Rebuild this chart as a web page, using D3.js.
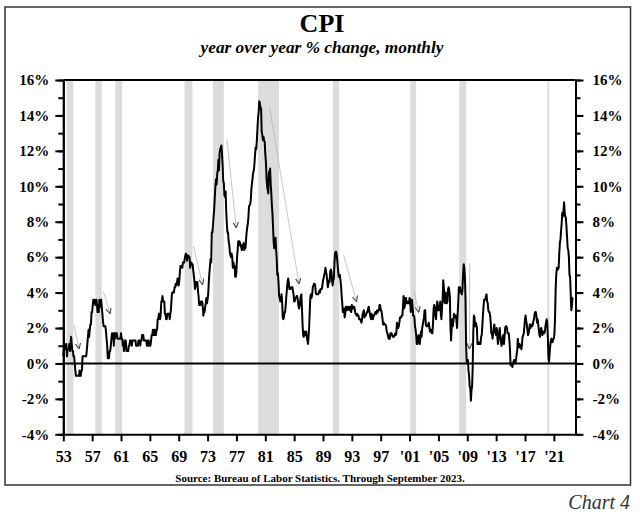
<!DOCTYPE html>
<html>
<head>
<meta charset="utf-8">
<script src="https://cdn.jsdelivr.net/npm/d3@7"></script>
<style>
  body { margin: 0; background: white; }
  text { font-family: "Liberation Serif", "Times New Roman", serif; }
</style>
</head>
<body>
<div id="chart"></div>
<script>
// monthly CPI, year over year % change, starting Jan 1953
const cpi1950s = [
  0.4, 0.8, 1.1, 0.8, 0.8, 1.1, 0.4, 0.8, 0.8, 0.8, 1.1, 0.7,
  1.1, 1.5, 1.1, 0.7, 0.7, 0.4, 0.4, 0.0, -0.4, -0.7, -0.7, -0.7,
  -0.7, -0.7, -0.7, -0.4, -0.7, -0.7, -0.4, -0.4, 0.4, 0.4, 0.4, 0.4,
  0.4, 0.4, 0.4, 0.7, 1.1, 1.5, 1.9, 1.5, 1.9, 2.2, 2.2, 2.9,
  2.9, 3.3, 3.6, 3.6, 3.6, 3.3, 3.3, 3.6, 3.3, 2.9, 3.3, 2.9,
  3.6, 3.2, 3.6, 3.6, 3.2, 2.8, 2.4, 2.1, 2.1, 2.1, 2.1, 1.8,
  1.4, 1.0, 0.3, 0.3, 0.3, 0.7, 0.7, 1.0, 1.4, 1.7, 1.4, 1.7
];
const cpi1960s = [
  1.0, 1.7, 1.4, 1.7, 1.7, 1.7, 1.4, 1.4, 1.4, 1.4, 1.4, 1.4,
  1.7, 1.4, 1.4, 1.0, 1.0, 0.7, 1.3, 1.3, 1.3, 0.7, 0.7, 0.7,
  0.7, 1.0, 1.0, 1.3, 1.3, 1.3, 1.0, 1.3, 1.3, 1.3, 1.3, 1.3,
  1.3, 1.0, 1.0, 1.0, 1.0, 1.3, 1.3, 1.3, 1.0, 1.3, 1.3, 1.6,
  1.6, 1.6, 1.3, 1.3, 1.3, 1.3, 1.3, 1.0, 1.3, 1.0, 1.3, 1.0,
  1.0, 1.0, 1.3, 1.6, 1.6, 1.9, 1.6, 1.9, 1.6, 1.9, 1.6, 1.9,
  1.9, 2.5, 2.5, 2.8, 2.8, 2.5, 2.8, 3.5, 3.5, 3.8, 3.5, 3.5,
  3.5, 2.8, 2.8, 2.5, 2.5, 2.8, 2.8, 2.8, 2.8, 2.5, 2.8, 3.0,
  3.6, 4.0, 4.0, 4.0, 4.0, 4.3, 4.3, 4.5, 4.4, 4.5, 4.8, 4.7,
  4.4, 4.7, 5.2, 5.5, 5.5, 5.5, 5.4, 5.7, 5.7, 5.7, 5.9, 6.1
];
const cpi1970s = [
  6.2, 6.1, 5.8, 6.1, 6.1, 6.0, 6.0, 5.4, 5.7, 5.7, 5.6, 5.6,
  5.3, 5.0, 4.7, 4.2, 4.4, 4.6, 4.4, 4.6, 4.1, 3.8, 3.3, 3.3,
  3.3, 3.5, 3.5, 3.5, 3.2, 2.7, 2.9, 2.9, 3.2, 3.4, 3.7, 3.4,
  3.6, 3.9, 4.6, 5.1, 5.5, 5.9, 5.7, 7.4, 7.4, 7.8, 8.3, 8.7,
  9.4, 10.0, 10.4, 10.1, 10.7, 10.9, 11.5, 10.9, 11.9, 12.1, 12.2, 12.3,
  11.8, 11.2, 10.3, 10.2, 9.5, 9.4, 9.7, 8.6, 7.9, 7.4, 7.4, 6.9,
  6.7, 6.3, 6.1, 6.0, 6.2, 6.0, 5.4, 5.7, 5.5, 5.5, 4.9, 4.9,
  5.2, 6.0, 6.4, 6.9, 6.7, 6.9, 6.8, 6.6, 6.6, 6.4, 6.7, 6.7,
  6.8, 6.4, 6.6, 6.5, 7.0, 7.4, 7.7, 7.9, 8.3, 8.9, 8.9, 9.0,
  9.3, 9.9, 10.2, 10.5, 10.8, 10.9, 11.3, 11.8, 12.2, 12.1, 12.6, 13.3
];
const cpi1980s = [
  13.9, 14.2, 14.8, 14.7, 14.4, 14.4, 13.1, 12.9, 12.6, 12.8, 12.6, 12.5,
  11.8, 11.4, 10.5, 10.0, 9.8, 9.6, 10.8, 10.8, 11.0, 10.1, 9.6, 8.9,
  8.4, 7.6, 6.8, 6.5, 6.7, 7.1, 6.4, 5.9, 5.0, 5.1, 4.6, 3.8,
  3.7, 3.5, 3.6, 3.9, 3.5, 2.6, 2.5, 2.6, 2.9, 2.9, 3.3, 3.8,
  4.2, 4.6, 4.8, 4.6, 4.2, 4.2, 4.2, 4.3, 4.3, 4.3, 4.1, 3.9,
  3.5, 3.5, 3.7, 3.7, 3.8, 3.8, 3.6, 3.3, 3.1, 3.2, 3.5, 3.8,
  3.9, 3.1, 2.2, 1.6, 1.5, 1.8, 1.6, 1.6, 1.8, 1.5, 1.3, 1.1,
  1.5, 2.1, 3.0, 3.8, 3.9, 3.7, 3.9, 4.3, 4.4, 4.5, 4.5, 4.4,
  4.0, 3.9, 3.9, 3.9, 3.9, 4.0, 4.1, 4.0, 4.2, 4.2, 4.2, 4.4,
  4.7, 4.8, 5.0, 5.1, 5.4, 5.2, 5.0, 4.7, 4.3, 4.5, 4.7, 4.6
];
const cpi1990s = [
  5.2, 5.3, 5.2, 4.7, 4.4, 4.7, 4.8, 5.6, 6.2, 6.3, 6.3, 6.1,
  5.7, 5.3, 4.9, 4.9, 5.0, 4.7, 4.4, 3.8, 3.4, 2.9, 3.0, 3.1,
  2.6, 2.8, 3.2, 3.2, 3.0, 3.1, 3.2, 3.1, 3.0, 3.2, 3.0, 2.9,
  3.3, 3.2, 3.1, 3.2, 3.2, 3.0, 2.8, 2.8, 2.7, 2.8, 2.7, 2.7,
  2.5, 2.5, 2.5, 2.4, 2.3, 2.5, 2.8, 2.9, 3.0, 2.6, 2.7, 2.7,
  2.8, 2.9, 2.9, 3.1, 3.2, 3.0, 2.8, 2.6, 2.5, 2.8, 2.6, 2.5,
  2.7, 2.7, 2.8, 2.9, 2.9, 2.8, 3.0, 2.9, 3.0, 3.0, 3.3, 3.3,
  3.0, 3.0, 2.8, 2.5, 2.2, 2.3, 2.2, 2.2, 2.2, 2.1, 1.8, 1.7,
  1.6, 1.4, 1.4, 1.4, 1.7, 1.7, 1.7, 1.6, 1.5, 1.5, 1.5, 1.6,
  1.7, 1.6, 1.7, 2.3, 2.1, 2.0, 2.1, 2.3, 2.6, 2.6, 2.6, 2.7
];
const cpi2000s = [
  2.7, 3.2, 3.8, 3.1, 3.2, 3.7, 3.7, 3.4, 3.5, 3.4, 3.4, 3.4,
  3.7, 3.5, 2.9, 3.3, 3.6, 3.2, 2.7, 2.7, 2.6, 2.1, 1.9, 1.6,
  1.1, 1.1, 1.5, 1.6, 1.2, 1.1, 1.5, 1.8, 1.5, 2.0, 2.2, 2.4,
  2.6, 3.0, 3.0, 2.2, 2.1, 2.1, 2.1, 2.2, 2.3, 2.0, 1.8, 1.9,
  1.9, 1.7, 1.7, 2.3, 3.1, 3.3, 3.0, 2.7, 2.5, 3.2, 3.5, 3.3,
  3.0, 3.0, 3.1, 3.5, 2.8, 2.5, 3.2, 3.6, 4.7, 4.3, 3.5, 3.4,
  4.0, 3.6, 3.4, 3.5, 4.2, 4.3, 4.1, 3.8, 2.1, 1.3, 2.0, 2.5,
  2.1, 2.4, 2.8, 2.6, 2.7, 2.7, 2.4, 2.0, 2.8, 3.5, 4.3, 4.1,
  4.3, 4.0, 4.0, 3.9, 4.2, 5.0, 5.6, 5.4, 4.9, 3.7, 1.1, 0.1,
  0.0, 0.2, -0.4, -0.7, -1.3, -1.4, -2.1, -1.5, -1.3, -0.2, 1.8, 2.7
];
const cpi2010s = [
  2.6, 2.1, 2.3, 2.2, 2.0, 1.1, 1.2, 1.1, 1.1, 1.2, 1.1, 1.5,
  1.6, 2.1, 2.7, 3.2, 3.6, 3.6, 3.6, 3.8, 3.9, 3.5, 3.4, 3.0,
  2.9, 2.9, 2.7, 2.3, 1.7, 1.7, 1.4, 1.7, 2.0, 2.2, 1.8, 1.7,
  1.6, 2.0, 1.5, 1.1, 1.4, 1.8, 2.0, 1.5, 1.2, 1.0, 1.2, 1.5,
  1.6, 1.1, 1.5, 2.0, 2.1, 2.1, 2.0, 1.7, 1.7, 1.7, 1.3, 0.8,
  -0.1, 0.0, -0.1, -0.2, 0.0, 0.1, 0.2, 0.2, 0.0, 0.2, 0.5, 0.7,
  1.4, 1.0, 0.9, 1.1, 1.0, 1.0, 0.8, 1.1, 1.5, 1.6, 1.7, 2.1,
  2.5, 2.7, 2.4, 2.2, 1.9, 1.6, 1.7, 1.9, 2.2, 2.0, 2.2, 2.1,
  2.1, 2.2, 2.4, 2.5, 2.8, 2.9, 2.9, 2.7, 2.3, 2.5, 2.2, 1.9,
  1.6, 1.5, 1.9, 2.0, 1.8, 1.6, 1.8, 1.7, 1.7, 1.8, 2.1, 2.3
];
const cpi2020s = [
  2.5, 2.3, 1.5, 0.3, 0.1, 0.6, 1.0, 1.3, 1.4, 1.2, 1.2, 1.4,
  1.4, 1.7, 2.6, 4.2, 5.0, 5.4, 5.4, 5.3, 5.4, 6.2, 6.8, 7.0,
  7.5, 7.9, 8.5, 8.3, 8.6, 9.1, 8.5, 8.3, 8.2, 7.7, 7.1, 6.5,
  6.4, 6.0, 5.0, 4.9, 4.0, 3.0, 3.2, 3.7, 3.7
];
const startYear = 1953;

// recessions (decimal years)
const recessionStart = [1953.45, 1957.45, 1960.2, 1969.8, 1973.75, 1980.0, 1990.35, 2001.1, 2007.88, 2020.1];
const recessionEnd   = [1954.4, 1958.35, 1961.15, 1970.9, 1975.25, 1982.9, 1991.25, 2001.9, 2008.85, 2020.35];

// grey arrows after recessions: [year, value] -> [year, value]
const arrowFrom = [[1954.48, 2.17], [1958.55, 4.05], [1971.04, 6.63], [1975.68, 12.65], [1981.59, 14.46], [1991.86, 6.12], [2001.57, 4.14], [2009.34, 5.65]];
const arrowTo   = [[1955.18, 0.85], [1959.48, 2.83], [1972.29, 4.48], [1976.97, 7.68], [1985.67, 4.52], [1993.62, 3.52], [2002.27, 2.92], [2009.3, 0.85]];

const xTickYears = d3.range(1953, 2022, 4);
const yMajorTicks = d3.range(-4, 17, 2);
const yMinorTicks = d3.range(-4, 17, 1);

const W = 640, H = 516;
const PLOT = { LEFT: 63.3, RIGHT: 575.5, TOP: 80, BOTTOM: 434.3 };
const SERIF = '"Liberation Serif", "Times New Roman", serif';

const series = [].concat(cpi1950s, cpi1960s, cpi1970s, cpi1980s, cpi1990s, cpi2000s, cpi2010s, cpi2020s)
  .map((v, i) => ({ date: startYear + i / 12, value: v }));

const svg = d3.select("#chart").append("svg")
  .attr("width", W)
  .attr("height", H)
  .style("background", "white");

// outer frame
svg.append("rect")
  .attr("x", 5).attr("y", 7)
  .attr("width", 625.5).attr("height", 478)
  .attr("fill", "none")
  .attr("stroke", "#333")
  .attr("stroke-width", 1.5);

const xScale = d3.scaleLinear().domain([1953, 2024]).range([PLOT.LEFT, PLOT.RIGHT]);
const yScale = d3.scaleLinear().domain([-4, 16]).range([PLOT.BOTTOM, PLOT.TOP]);

// recession shading
svg.append("g").selectAll("rect")
  .data(recessionStart.map((s, i) => [s, recessionEnd[i]]))
  .join("rect")
  .attr("x", (d) => xScale(d[0]))
  .attr("width", (d) => xScale(d[1]) - xScale(d[0]))
  .attr("y", yScale(16))
  .attr("height", yScale(-4) - yScale(16))
  .attr("fill", "#dcdcdc");

// arrows
svg.append("defs").append("marker")
  .attr("id", "arrowhead")
  .attr("viewBox", "0 0 8 8")
  .attr("refX", 7).attr("refY", 4)
  .attr("markerWidth", 6).attr("markerHeight", 6)
  .attr("markerUnits", "userSpaceOnUse")
  .attr("orient", "auto")
  .append("path")
  .attr("d", "M0,0.5 L8,4 L0,7.5")
  .attr("fill", "none")
  .attr("stroke", "#444")
  .attr("stroke-width", 1.4);

svg.append("g").selectAll("line")
  .data(arrowFrom.map((f, i) => [f, arrowTo[i]]))
  .join("line")
  .attr("x1", (d) => xScale(d[0][0]))
  .attr("y1", (d) => yScale(d[0][1]))
  .attr("x2", (d) => xScale(d[1][0]))
  .attr("y2", (d) => yScale(d[1][1]))
  .attr("stroke", "#b8b8b8")
  .attr("stroke-width", 0.8)
  .attr("marker-end", "url(#arrowhead)");

// zero line
svg.append("line")
  .attr("x1", PLOT.LEFT).attr("x2", PLOT.RIGHT)
  .attr("y1", yScale(0)).attr("y2", yScale(0))
  .attr("stroke", "black").attr("stroke-width", 2);

// top border of plot
svg.append("line")
  .attr("x1", PLOT.LEFT).attr("x2", PLOT.RIGHT)
  .attr("y1", yScale(16)).attr("y2", yScale(16))
  .attr("stroke", "black").attr("stroke-width", 2);

// cpi line
const line = d3.line()
  .x((d) => xScale(d.date))
  .y((d) => yScale(d.value));

svg.append("path")
  .datum(series)
  .attr("d", line)
  .attr("fill", "none")
  .attr("stroke", "black")
  .attr("stroke-width", 2)
  .attr("stroke-linejoin", "round");

// axes
const fmtPct = (d) => d + "%";
const fmtYear = (d) => (d < 2000 ? String(d % 100) : "'" + String(d % 100).padStart(2, "0"));

function styleAxis(g) {
  g.select(".domain").attr("stroke", "black").attr("stroke-width", 2);
  g.selectAll(".tick line").attr("stroke", "black").attr("stroke-width", 2);
  g.selectAll("text")
    .attr("fill", "black")
    .style("font-family", SERIF)
    .style("font-weight", "bold");
}

[["left", PLOT.LEFT], ["right", PLOT.RIGHT]].forEach(([side, x]) => {
  const mk = side === "left" ? d3.axisLeft : d3.axisRight;
  svg.append("g")
    .attr("transform", `translate(${x},0)`)
    .call(mk(yScale).tickValues(yMinorTicks).tickSize(5).tickFormat("").tickSizeOuter(0))
    .call(styleAxis);
  svg.append("g")
    .attr("transform", `translate(${x},0)`)
    .call(mk(yScale).tickValues(yMajorTicks).tickSize(8).tickPadding(side === "left" ? 6 : 9).tickFormat(fmtPct).tickSizeOuter(0))
    .call(styleAxis)
    .call((g) => g.selectAll("text").style("font-size", "15px"));
});

svg.append("g")
  .attr("transform", `translate(0,${PLOT.BOTTOM})`)
  .call(d3.axisBottom(xScale).tickValues(xTickYears).tickSize(7).tickPadding(9).tickFormat(fmtYear).tickSizeOuter(0))
  .call(styleAxis)
  .call((g) => g.selectAll("text").style("font-size", "16px"));

// titles
svg.append("text")
  .attr("x", 322).attr("y", 31.5)
  .attr("text-anchor", "middle")
  .style("font-family", SERIF)
  .style("font-size", "26px")
  .style("font-weight", "bold")
  .text("CPI");

svg.append("text")
  .attr("x", 322).attr("y", 53)
  .attr("text-anchor", "middle")
  .style("font-family", SERIF)
  .style("font-size", "17.3px")
  .style("font-weight", "bold")
  .style("font-style", "italic")
  .text("year over year % change, monthly");

svg.append("text")
  .attr("x", 320).attr("y", 482)
  .attr("text-anchor", "middle")
  .style("font-family", SERIF)
  .style("font-size", "11px")
  .style("font-weight", "bold")
  .text("Source: Bureau of Labor Statistics. Through September 2023.");

svg.append("text")
  .attr("x", 630).attr("y", 509)
  .attr("text-anchor", "end")
  .style("font-family", SERIF)
  .style("font-size", "20px")
  .style("font-style", "italic")
  .attr("fill", "#333")
  .text("Chart 4");
</script>
</body>
</html>
